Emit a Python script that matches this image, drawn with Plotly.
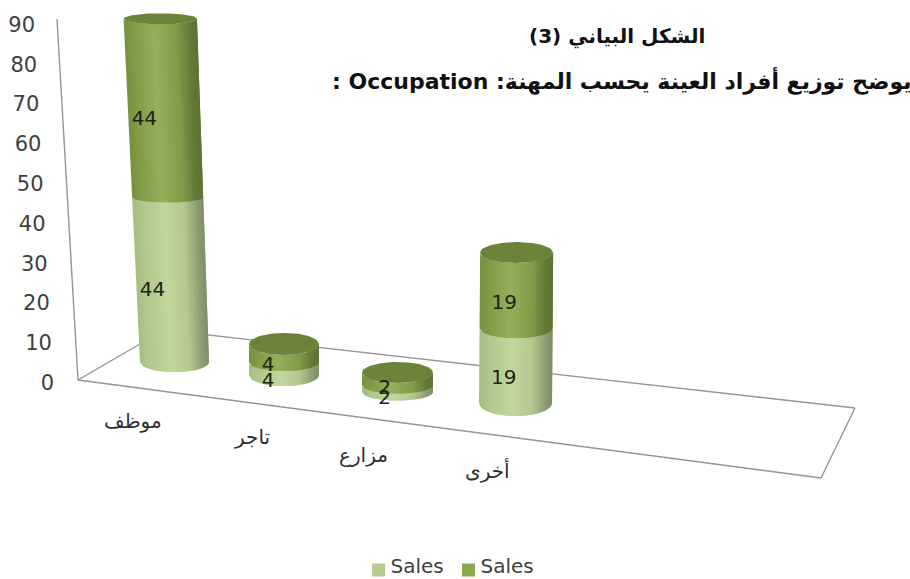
import plotly.graph_objects as go

# ---- data ----
categories = ["موظف", "تاجر", "مزارع", "أخرى"]
series_lower = [44, 4, 2, 19]
series_upper = [44, 4, 2, 19]
series_names = ["Sales", "Sales"]
tick_values = [0, 10, 20, 30, 40, 50, 60, 70, 80, 90]
title_line1 = "الشكل البياني (3)"
title_line2 = "\u202bيوضح توزيع أفراد العينة يحسب المهنة: Occupation :\u202c"

# ---- 3D-look geometry (foreshortening of the original perspective) ----
W, H = 910, 579
UNIT = 3.98            # px per value unit
Y0 = 380               # px of value 0
def px2v(p):
    return (Y0 - p) / UNIT

floor_px = [362, 375, 392, 403]
scale_lower = [0.94, 0.82, 0.88, 0.99]
scale_upper = [1.02, 1.13, 1.57, 1.00]
left_px = [140, 249, 362, 479]
right_px = [209, 319, 433, 552]
left_lean = [-0.19, 0, 0, 0.03]
right_lean = [-0.14, 0, 0, 0.03]
ry_bottom = [10, 11, 8.5, 13]
ry_mid = [5, 9, 8.5, 10]
ry_top = [5.5, 11, 10.5, 10.5]
label_dx = [-18, -16, -13, -12]
label_dy = [-2.9, -3.3, -2.6, -3.4]
cat_label_x = [133, 252, 363, 487]
cat_label_y = [421, 437, 455, 470]
N = 26

lower_stops = [(0, "#A6BE82"), (0.12, "#AFC78A"), (0.45, "#C0D79B"), (0.72, "#B4C88F"), (0.9, "#8F9F72"), (1, "#7F8E66")]
upper_stops = [(0, "#769140"), (0.12, "#7F9B47"), (0.42, "#94B05A"), (0.72, "#7F9B48"), (0.9, "#627A36"), (1, "#5C7233")]
CAP = "#6B843A"

def rgb(h):
    return tuple(int(h[i:i + 2], 16) for i in (1, 3, 5))

def grad(stops, u):
    for (a, ca), (b, cb) in zip(stops, stops[1:]):
        if u <= b:
            f = (u - a) / (b - a)
            c = [round(x + (y - x) * f) for x, y in zip(rgb(ca), rgb(cb))]
            return "#%02x%02x%02x" % tuple(c)
    return stops[-1][1]

def arc(u, ry):
    t = 2 * u - 1
    return ry * max(0.0, 1 - t * t) ** 0.5 / UNIT

fig = go.Figure()

def cylinder_part(i, v0, v1, cum0, cum1, ry0, ry1, stops):
    """one stacked segment, value heights v0..v1 (axis units)"""
    lh0, rh0 = left_px[i] + left_lean[i] * cum0, right_px[i] + right_lean[i] * cum0
    lh1, rh1 = left_px[i] + left_lean[i] * cum1, right_px[i] + right_lean[i] * cum1
    for s in range(N):
        # each strip reaches under the next one, so no seams show
        u0, umid, u1 = s / N, (s + 0.5) / N, min(1.0, (s + 2) / N)
        us = [u0 + (u1 - u0) * k / 4 for k in range(5)]
        col = grad(stops, umid)
        xs = [lh0 + (rh0 - lh0) * u for u in us] + [lh1 + (rh1 - lh1) * u for u in reversed(us)]
        ys = [v0 - arc(u, ry0) for u in us] + [v1 - arc(u, ry1) for u in reversed(us)]
        fig.add_trace(go.Scatter(
            x=xs, y=ys,
            mode="lines", fill="toself", fillcolor=col,
            line=dict(color=col, width=0),
            hoverinfo="skip", showlegend=False))

for i in range(len(categories)):
    base = px2v(floor_px[i])
    h_low = series_lower[i] * scale_lower[i]
    h_up = series_upper[i] * scale_upper[i]
    v_mid = base + h_low
    v_top = v_mid + h_up
    cum_low, cum_top = h_low, h_low + h_up
    cylinder_part(i, base, v_mid, 0, cum_low, ry_bottom[i], ry_mid[i], lower_stops)
    cylinder_part(i, v_mid, v_top, cum_low, cum_top, ry_mid[i], ry_top[i], upper_stops)
    # top cap
    l = left_px[i] + left_lean[i] * cum_top
    r = right_px[i] + right_lean[i] * cum_top
    us = [k / 60 for k in range(61)]
    xs = [l + (r - l) * u for u in us] + [l + (r - l) * u for u in reversed(us)]
    ys = [v_top - arc(u, ry_top[i]) for u in us] + [v_top + arc(u, ry_top[i]) for u in reversed(us)]
    fig.add_trace(go.Scatter(x=xs, y=ys, mode="lines", fill="toself", fillcolor=CAP,
                             line=dict(color=CAP, width=0), hoverinfo="skip", showlegend=False))

# data labels
lab_x, lab_y, lab_t = [], [], []
for i in range(len(categories)):
    base = px2v(floor_px[i])
    h_low = series_lower[i] * scale_lower[i]
    h_up = series_upper[i] * scale_upper[i]
    cx = (left_px[i] + right_px[i]) / 2
    lab_x += [cx + left_lean[i] * h_low / 2 + label_dx[i],
              cx + left_lean[i] * (h_low + h_up / 2) + label_dx[i]]
    lab_y += [base + h_low / 2 + label_dy[i], base + h_low + h_up / 2 + label_dy[i]]
    lab_t += [str(series_lower[i]), str(series_upper[i])]
fig.add_trace(go.Scatter(x=lab_x, y=lab_y, text=lab_t, mode="text", textposition="middle center",
                         textfont=dict(family="DejaVu Sans", size=20, color="#1c2410"),
                         hoverinfo="skip", showlegend=False))

# value-axis labels, sheared with the back wall
fig.add_trace(go.Scatter(x=[54 - 0.21 * t for t in tick_values],
                         y=[t - 1.2 for t in tick_values],
                         text=[str(t) for t in tick_values], mode="text", textposition="middle left",
                         textfont=dict(family="DejaVu Sans", size=21, color="#404040"),
                         hoverinfo="skip", showlegend=False))

# legend entries: swatch with its name right beside it
legend_swatch_x = [378.5, 468.5]
for name, col, lx in zip(series_names, ["#B5CC8E", "#8CA84F"], legend_swatch_x):
    fig.add_trace(go.Scatter(x=[lx], y=[px2v(570)], mode="markers", name=name,
                             marker=dict(symbol="square", size=13, color=col),
                             hoverinfo="name", showlegend=False))
    fig.add_trace(go.Scatter(x=[lx + 12], y=[px2v(568)], mode="text", text=[name],
                             textposition="middle right",
                             textfont=dict(family="DejaVu Sans", size=20, color="#404040"),
                             hoverinfo="skip", showlegend=False))

# walls and floor
grey = dict(color="#949494", width=1.4)
def seg(p0, p1):
    return dict(type="line", xref="x", yref="y", layer="below",
                x0=p0[0], y0=px2v(p0[1]), x1=p1[0], y1=px2v(p1[1]), line=grey)
wall = [(57, 19), (78, 380)]
floor = [(78, 380), (821, 478), (855, 408), (164, 330), (78, 380)]
shapes = [seg(*wall)] + [seg(a, b) for a, b in zip(floor, floor[1:])]

annotations = [dict(x=cat_label_x[i], y=px2v(cat_label_y[i]), xref="x", yref="y", text=categories[i],
                    showarrow=False, font=dict(family="DejaVu Sans", size=20, color="#303030"))
               for i in range(len(categories))]
annotations += [
    dict(x=617, y=px2v(36), xref="x", yref="y", text=title_line1, showarrow=False,
         font=dict(family="DejaVu Sans", size=20, color="#111111", weight="bold")),
    dict(x=621, y=px2v(80), xref="x", yref="y", text=title_line2, showarrow=False,
         font=dict(family="DejaVu Sans", size=22, color="#111111", weight="bold")),
]

fig.update_layout(
    width=W, height=H, margin=dict(l=0, r=0, t=0, b=0),
    paper_bgcolor="white", plot_bgcolor="white",
    xaxis=dict(range=[0, W], visible=False, fixedrange=True),
    yaxis=dict(range=[px2v(H), px2v(0)], visible=False, fixedrange=True),
    shapes=shapes, annotations=annotations, showlegend=False,
)
fig.write_html("out.html", config={"displayModeBar": False},
               post_script="document.body.style.margin='0';document.documentElement.style.overflow='hidden';")
